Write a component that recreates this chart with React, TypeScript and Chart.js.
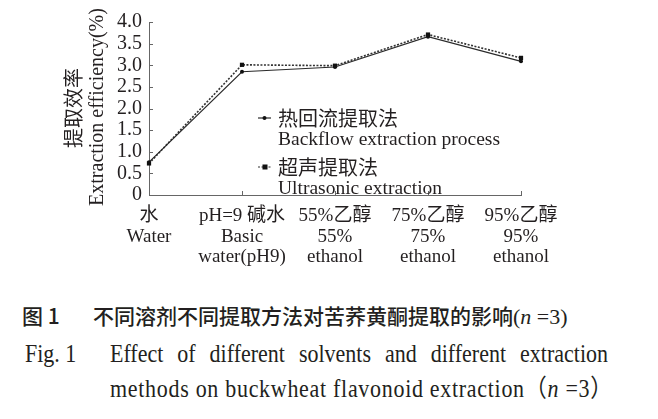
import React, { useEffect, useRef } from "react";
import { Chart, registerables } from "chart.js";

Chart.register(...registerables);

const categories: string[][] = [
  ["水", "Water"],
  ["pH=9 碱水", "Basic", "water(pH9)"],
  ["55%乙醇", "55%", "ethanol"],
  ["75%乙醇", "75%", "ethanol"],
  ["95%乙醇", "95%", "ethanol"],
];
const backflowValues = [0.76, 2.85, 2.96, 3.66, 3.09];
const ultrasonicValues = [0.73, 3.01, 2.99, 3.71, 3.17];
const yTicks = [0, 0.5, 1.0, 1.5, 2.0, 2.5, 3.0, 3.5, 4.0];
const seriesNames = [
  ["热回流提取法", "Backflow extraction process"],
  ["超声提取法", "Ultrasonic extraction"],
];
const yTitleCn = "提取效率";
const yTitleEn = "Extraction efficiency(%)";

const TEXT = "#231f20";
const SERIF = "'Liberation Serif', 'Noto Sans CJK SC', serif";
const CJK = "'Noto Sans CJK SC', 'Liberation Serif', serif";

const decorPlugin = {
  id: "decor",
  afterDraw(chart: any) {
    const ctx = chart.ctx as CanvasRenderingContext2D;
    const { left, bottom, top } = chart.chartArea;
    const y = chart.scales.y;
    const x = chart.scales.x;
    ctx.save();
    // inward ticks
    ctx.strokeStyle = "#666";
    ctx.lineWidth = 1;
    yTicks.forEach((v) => {
      const py = Math.round(y.getPixelForValue(v)) + 0.5;
      ctx.beginPath();
      ctx.moveTo(left, py);
      ctx.lineTo(left + 4, py);
      ctx.stroke();
    });
    categories.forEach((_, i) => {
      if (i === 0) return;
      const px = Math.round(x.getPixelForValue(i)) + 0.5;
      ctx.beginPath();
      ctx.moveTo(px, bottom);
      ctx.lineTo(px, bottom - 4);
      ctx.stroke();
    });
    // y titles
    ctx.fillStyle = TEXT;
    ctx.textAlign = "center";
    ctx.textBaseline = "middle";
    ctx.save();
    ctx.translate(left - 76, top + 86);
    ctx.rotate(-Math.PI / 2);
    ctx.font = `20px ${CJK}`;
    ctx.fillText(yTitleCn, 0, 0);
    ctx.restore();
    ctx.save();
    ctx.translate(left - 51, top + 85);
    ctx.rotate(-Math.PI / 2);
    ctx.font = `20px ${SERIF}`;
    ctx.fillText(yTitleEn, 0, 0);
    ctx.restore();
    // legend
    const lx = left + 109;
    const rows = [top + 96, top + 145];
    chart.data.datasets.forEach((ds: any, i: number) => {
      const ry = rows[i];
      ctx.strokeStyle = ds.borderColor;
      ctx.lineWidth = 1.2;
      ctx.setLineDash(ds.borderDash || []);
      ctx.beginPath();
      ctx.moveTo(lx, ry);
      ctx.lineTo(lx + 13, ry);
      ctx.stroke();
      ctx.setLineDash([]);
      ctx.fillStyle = "#111";
      if (ds.pointStyle === "rect") {
        ctx.fillRect(lx + 4.5, ry - 2.5, 5, 5);
      } else {
        ctx.beginPath();
        ctx.arc(lx + 6.5, ry, 2, 0, Math.PI * 2);
        ctx.fill();
      }
      ctx.fillStyle = TEXT;
      ctx.textAlign = "left";
      ctx.textBaseline = "middle";
      ctx.font = `20px ${CJK}`;
      ctx.fillText(seriesNames[i][0], lx + 20, ry);
      ctx.font = `19.5px ${SERIF}`;
      ctx.fillText(seriesNames[i][1], lx + 20, ry + 22);
    });
    ctx.restore();
  },
};

export default function App() {
  const ref = useRef<HTMLCanvasElement>(null);
  useEffect(() => {
    const canvas = ref.current!;
    const chart = new Chart(canvas, {
      type: "line",
      data: {
        labels: categories,
        datasets: [
          {
            label: seriesNames[0][1],
            data: backflowValues,
            borderColor: "#2a2a2a",
            borderWidth: 1.2,
            pointStyle: "circle",
            pointRadius: 2,
            pointBackgroundColor: "#111",
            pointBorderColor: "#111",
            pointBorderWidth: 0,
            tension: 0,
          },
          {
            label: seriesNames[1][1],
            data: ultrasonicValues,
            borderColor: "#333",
            borderWidth: 1.6,
            borderDash: [2, 1.5],
            pointStyle: "rect",
            pointRadius: 3,
            pointBackgroundColor: "#111",
            pointBorderColor: "#111",
            pointBorderWidth: 0,
            tension: 0,
          } as any,
        ],
      },
      options: {
        animation: false,
        responsive: false,
        maintainAspectRatio: false,
        layout: { padding: { left: 0, right: 137, top: 22, bottom: 0 } },
        plugins: { legend: { display: false }, tooltip: { enabled: false } },
        scales: {
          x: {
            type: "category",
            offset: false,
            grid: { display: false, drawTicks: false },
            border: { display: true, color: "#666", width: 1 },
            ticks: {
              color: TEXT,
              font: { size: 19, family: SERIF, lineHeight: 1.08 },
              padding: 11,
              maxRotation: 0,
              autoSkip: false,
            },
            afterFit: (s: any) => {
              s.height = 95;
            },
          },
          y: {
            min: 0,
            max: 4,
            grid: { display: false, drawTicks: false },
            border: { display: true, color: "#666", width: 1 },
            afterBuildTicks: (s: any) => {
              s.ticks = yTicks.map((v) => ({ value: v }));
            },
            ticks: {
              color: TEXT,
              font: { size: 20, family: SERIF },
              padding: 7,
              autoSkip: false,
              callback: (v: any) => (Number(v) === 0 ? "0" : Number(v).toFixed(1)),
            },
            afterFit: (s: any) => {
              s.width = 149;
            },
          },
        },
      },
      plugins: [decorPlugin],
    });
    return () => chart.destroy();
  }, []);

  const capEn: React.CSSProperties = {
    position: "absolute",
    fontFamily: SERIF,
    fontSize: 22,
    lineHeight: "28px",
    whiteSpace: "nowrap",
    transform: "scaleY(1.12)",
    transformOrigin: "left center",
  };

  return (
    <div
      style={{
        position: "absolute",
        left: 0,
        top: 0,
        width: 658,
        height: 419,
        background: "#fff",
        color: TEXT,
        overflow: "hidden",
      }}
    >
      <canvas ref={ref} width={658} height={290} style={{ display: "block", width: 658, height: 290 }} />
      <div
        style={{
          position: "absolute",
          left: 22,
          top: 301,
          fontFamily: CJK,
          fontWeight: 500,
          fontSize: 21,
          lineHeight: "28px",
          whiteSpace: "nowrap",
        }}
      >
        <span>图 1</span>
        <span style={{ position: "absolute", left: 71, top: 0 }}>
          不同溶剂不同提取方法对苦荞黄酮提取的影响
          <span style={{ fontFamily: SERIF, fontWeight: 400, fontSize: 22 }}>
            (<i>n</i> =3)
          </span>
        </span>
      </div>
      <div style={{ ...capEn, left: 25, top: 340 }}>Fig. 1</div>
      <div
        style={{
          ...capEn,
          left: 110,
          top: 340,
          width: 498,
          textAlign: "justify",
          textAlignLast: "justify",
        }}
      >
        Effect of different solvents and different extraction
      </div>
      <div style={{ ...capEn, left: 110, top: 375, letterSpacing: 0.7 }}>
        methods on buckwheat flavonoid extraction（<i>n</i> =3）
      </div>
    </div>
  );
}
